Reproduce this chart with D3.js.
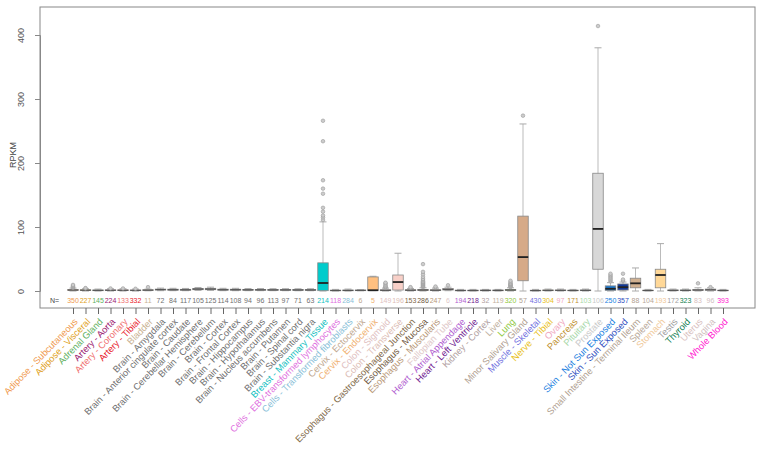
<!DOCTYPE html>
<html>
<head>
<meta charset="utf-8">
<script src="https://cdn.jsdelivr.net/npm/d3@7"></script>
<style>
  body { margin: 0; background: #fff; }
  svg { font-family: "Liberation Sans", Arial, sans-serif; }
</style>
</head>
<body>
<div id="chart"></div>
<script>
// tissue names and sample counts
var tissues = [
  "Adipose - Subcutaneous", "Adipose - Visceral", "Adrenal Gland", "Artery - Aorta",
  "Artery - Coronary", "Artery - Tibial", "Bladder", "Brain - Amygdala",
  "Brain - Anterior cingulate cortex", "Brain - Caudate", "Brain - Cerebellar Hemisphere",
  "Brain - Cerebellum", "Brain - Cortex", "Brain - Frontal Cortex", "Brain - Hippocampus",
  "Brain - Hypothalamus", "Brain - Nucleus accumbens", "Brain - Putamen", "Brain - Spinal cord",
  "Brain - Substantia nigra", "Breast - Mammary Tissue", "Cells - EBV-transformed lymphocytes",
  "Cells - Transformed fibroblasts", "Cervix - Ectocervix", "Cervix - Endocervix",
  "Colon - Sigmoid", "Colon - Transverse", "Esophagus - Gastroesophageal Junction",
  "Esophagus - Mucosa", "Esophagus - Muscularis", "Fallopian Tube", "Heart - Atrial Appendage",
  "Heart - Left Ventricle", "Kidney - Cortex", "Liver", "Lung", "Minor Salivary Gland",
  "Muscle - Skeletal", "Nerve - Tibial", "Ovary", "Pancreas", "Pituitary", "Prostate",
  "Skin - Not Sun Exposed", "Skin - Sun Exposed", "Small Intestine - Terminal Ileum",
  "Spleen", "Stomach", "Testis", "Thyroid", "Uterus", "Vagina", "Whole Blood"
];
var counts = [350, 227, 145, 224, 133, 332, 11, 72, 84, 117, 105, 125, 114, 108, 94, 96, 113, 97,
  71, 63, 214, 118, 284, 6, 5, 149, 196, 153, 286, 247, 6, 194, 218, 32, 119, 320, 57, 430, 304,
  97, 171, 103, 106, 250, 357, 88, 104, 193, 172, 323, 83, 96, 393];

// [lower whisker, q1, median, q3, upper whisker] in RPKM
var stats = [
  [0, 0.8, 1.5, 2.3, 4.5], [0, 0.7, 1.2, 2, 3.5], [0, 0.5, 1, 1.6, 3], [0, 0.6, 1.1, 1.8, 3.5],
  [0, 0.6, 1.1, 1.8, 3.5], [0, 0.5, 1, 1.6, 3], [0.3, 0.8, 1.3, 2, 3], [0.5, 1.5, 2.2, 3, 4.5],
  [0.5, 1.3, 2, 2.8, 4.2], [0.5, 1.2, 1.9, 2.6, 4], [1, 2, 3, 4, 5.5], [1, 2, 3, 4.2, 6],
  [0.5, 1.3, 2, 2.8, 4.2], [0.5, 1.3, 2, 2.8, 4.2], [0.5, 1.2, 1.8, 2.5, 3.8], [0.5, 1.2, 1.8, 2.5, 3.8],
  [0.5, 1.1, 1.7, 2.4, 3.6], [0.5, 1.1, 1.7, 2.4, 3.6], [0.4, 1, 1.6, 2.3, 3.5], [0.4, 1, 1.6, 2.3, 3.5],
  [0, 0.5, 12.5, 44, 108], [0, 0.3, 0.8, 1.3, 2.5], [0, 0.4, 0.9, 1.5, 3], [0.3, 0.5, 1, 1.5, 2],
  [0.5, 0.8, 1.2, 22, 23], [0, 0.5, 1, 2, 4.5], [0, 1.5, 14, 25, 59], [0, 0.6, 1.2, 2, 4],
  [0, 0.8, 1.5, 2.5, 5], [0, 0.6, 1.2, 2, 4.5], [0.5, 1.5, 2.5, 4, 6], [0, 0.3, 0.8, 1.3, 2.5],
  [0, 0.3, 0.8, 1.3, 2.5], [0, 0.4, 0.9, 1.5, 2.5], [0, 0.4, 0.9, 1.5, 2.5], [0, 0.8, 1.5, 2.5, 5],
  [0, 16, 53, 117, 261], [0, 0.3, 0.7, 1.2, 2.5], [0, 0.5, 1, 1.6, 3], [0, 0.5, 1, 1.6, 3],
  [0, 0.4, 0.8, 1.3, 2.5], [0, 0.5, 1, 1.6, 3], [0, 34, 97, 184, 380], [0, 1, 3.5, 8, 13],
  [0, 1.5, 6, 11, 14], [0, 5, 12, 20, 36], [0, 0.4, 0.8, 1.3, 2.5], [0, 5, 25, 34, 74],
  [0, 0.5, 1, 1.6, 3], [0, 0.5, 1, 1.6, 3], [0, 0.7, 1.5, 2.5, 5], [0, 1, 2, 3, 5],
  [0, 0.4, 0.8, 1.3, 2.5]
];

// outliers per tissue (index -> values)
var outliers = {
  0: [5, 6, 7, 8, 9.5], 1: [4, 4.5], 3: [4], 4: [4], 5: [3.5], 6: [6],
  20: [111, 115, 118, 124, 130, 152, 160, 173, 234, 266],
  25: [5, 6, 7, 8, 10, 12, 13], 27: [5, 6],
  28: [6, 7, 8, 9, 10, 11, 12, 13, 14, 15, 17, 19, 22, 26, 30, 42],
  29: [5.5, 7], 30: [9], 35: [6, 7, 8, 9, 10, 11, 12, 14, 16],
  36: [274], 42: [414], 43: [15, 17, 19, 21, 23, 25, 27], 44: [16, 18, 27],
  50: [12], 51: [6]
};

var yTicks = [0, 100, 200, 300, 400];

// label colours and box fills
var labelColors = [
  "#f09a50", "#e0a020", "#60b060", "#9a2070", "#f07070", "#e8202a", "#c8b090",
  "#707070", "#707070", "#707070", "#707070", "#707070", "#707070", "#707070",
  "#707070", "#707070", "#707070", "#707070", "#707070", "#707070",
  "#10c0c0", "#e070e0", "#88c0d8", "#c0a890", "#f0b070", "#e0c0c0", "#dcbcb4",
  "#806848", "#705840", "#b89878", "#e0c8c8", "#b060d0", "#702090", "#b0a0a0",
  "#c0b0a0", "#90c840", "#b0a090", "#7070e0", "#e8c020", "#f0a8c0", "#c09030",
  "#a8d8a8", "#c8c8c8", "#2080e0", "#3050c0", "#b0a090", "#b8a898", "#f0c898",
  "#a0a0a0", "#108050", "#d8c0c0", "#d0c0c0", "#ff20d0"
];
var boxFills = labelColors.slice();
boxFills[20] = "#00cccc"; boxFills[24] = "#ffc080"; boxFills[26] = "#f8d0c8";
boxFills[36] = "#d6aa88"; boxFills[42] = "#d8d8d8"; boxFills[43] = "#1878d0";
boxFills[44] = "#103898"; boxFills[45] = "#d0b090"; boxFills[47] = "#ffd898";

var width = 762, height = 450;
var plot = { left: 40, right: 755, top: 7, bottom: 308 };

var svg = d3.select('#chart').append('svg')
  .attr('width', width).attr('height', height);

var x = d3.scalePoint().domain(d3.range(tissues.length))
  .range([73, 723]);
var y = d3.scaleLinear().domain([0, 400]).range([291, 35]);

var boxW = 10.5, capW = 7;

// plot frame
svg.append('rect')
  .attr('x', plot.left).attr('y', plot.top)
  .attr('width', plot.right - plot.left).attr('height', plot.bottom - plot.top)
  .attr('fill', 'none').attr('stroke', '#888').attr('stroke-width', 1);

// y axis
var yAxis = svg.append('g').attr('transform', 'translate(' + plot.left + ',0)')
  .call(d3.axisLeft(y).tickValues(yTicks).tickSize(5).tickFormat(d3.format('d')));
yAxis.select('.domain').attr('stroke', '#888');
yAxis.selectAll('.tick line').attr('stroke', '#888');
yAxis.selectAll('.tick text')
  .attr('transform', 'rotate(-90)')
  .attr('x', 0).attr('y', -16).attr('dy', 0)
  .attr('text-anchor', 'middle')
  .attr('fill', '#555').style('font-size', '9px');

svg.append('text')
  .attr('transform', 'translate(16,155) rotate(-90)')
  .attr('text-anchor', 'middle')
  .attr('fill', '#444').style('font-size', '9px')
  .text('RPKM');

// x axis ticks + rotated labels
var xAxis = svg.append('g').attr('transform', 'translate(0,' + plot.bottom + ')')
  .call(d3.axisBottom(x).tickSize(6).tickFormat(''));
xAxis.select('.domain').remove();
xAxis.selectAll('.tick line').attr('stroke', '#666');

svg.append('g').selectAll('text')
  .data(tissues).enter()
  .append('text')
  .attr('transform', function (d, i) { return 'translate(' + (x(i) + 3) + ',320) rotate(-46)'; })
  .attr('text-anchor', 'end')
  .attr('dy', '0.35em')
  .attr('fill', function (d, i) { return labelColors[i]; })
  .style('font-size', '9.3px')
  .text(function (d) { return d; });

// N= row
svg.append('text').attr('x', 50).attr('y', 303)
  .attr('fill', '#444').style('font-size', '7px').text('N=');
svg.append('g').selectAll('text')
  .data(counts).enter()
  .append('text')
  .attr('x', function (d, i) { return x(i); })
  .attr('y', 303)
  .attr('text-anchor', 'middle')
  .attr('fill', function (d, i) { return labelColors[i]; })
  .style('font-size', '7px')
  .text(function (d) { return d; });

// boxes
var g = svg.append('g').selectAll('g')
  .data(stats).enter()
  .append('g')
  .attr('transform', function (d, i) { return 'translate(' + x(i) + ',0)'; });

g.append('line')
  .attr('y1', function (d) { return y(d[0]); }).attr('y2', function (d) { return y(d[4]); })
  .attr('stroke', '#bbb').attr('stroke-width', 1);
g.append('line')
  .attr('x1', -capW / 2).attr('x2', capW / 2)
  .attr('y1', function (d) { return y(d[4]); }).attr('y2', function (d) { return y(d[4]); })
  .attr('stroke', '#aaa');
g.append('line')
  .attr('x1', -capW / 2).attr('x2', capW / 2)
  .attr('y1', function (d) { return y(d[0]); }).attr('y2', function (d) { return y(d[0]); })
  .attr('stroke', '#aaa');
g.append('rect')
  .attr('x', -boxW / 2).attr('width', boxW)
  .attr('y', function (d) { return y(d[3]); })
  .attr('height', function (d) { return Math.max(y(d[1]) - y(d[3]), 0.5); })
  .attr('fill', function (d, i) { return boxFills[i]; })
  .attr('stroke', '#888').attr('stroke-width', 0.8);
// thin median on tiny boxes, thick one on the big ones
g.append('line')
  .attr('x1', -boxW / 2).attr('x2', boxW / 2)
  .attr('y1', function (d) { return y(d[2]); }).attr('y2', function (d) { return y(d[2]); })
  .attr('stroke', function (d) { return d[3] - d[1] > 4 ? '#222' : '#555'; })
  .attr('stroke-width', function (d) { return d[3] - d[1] > 4 ? 1.8 : 1.1; });

// outlier points
g.each(function (d, i) {
  var pts = outliers[i] || [];
  d3.select(this).selectAll('circle')
    .data(pts).enter()
    .append('circle')
    .attr('cy', function (v) { return y(v); })
    .attr('r', 1.8)
    .attr('fill', '#ccc')
    .attr('stroke', '#999').attr('stroke-width', 0.6);
});
</script>
</body>
</html>
